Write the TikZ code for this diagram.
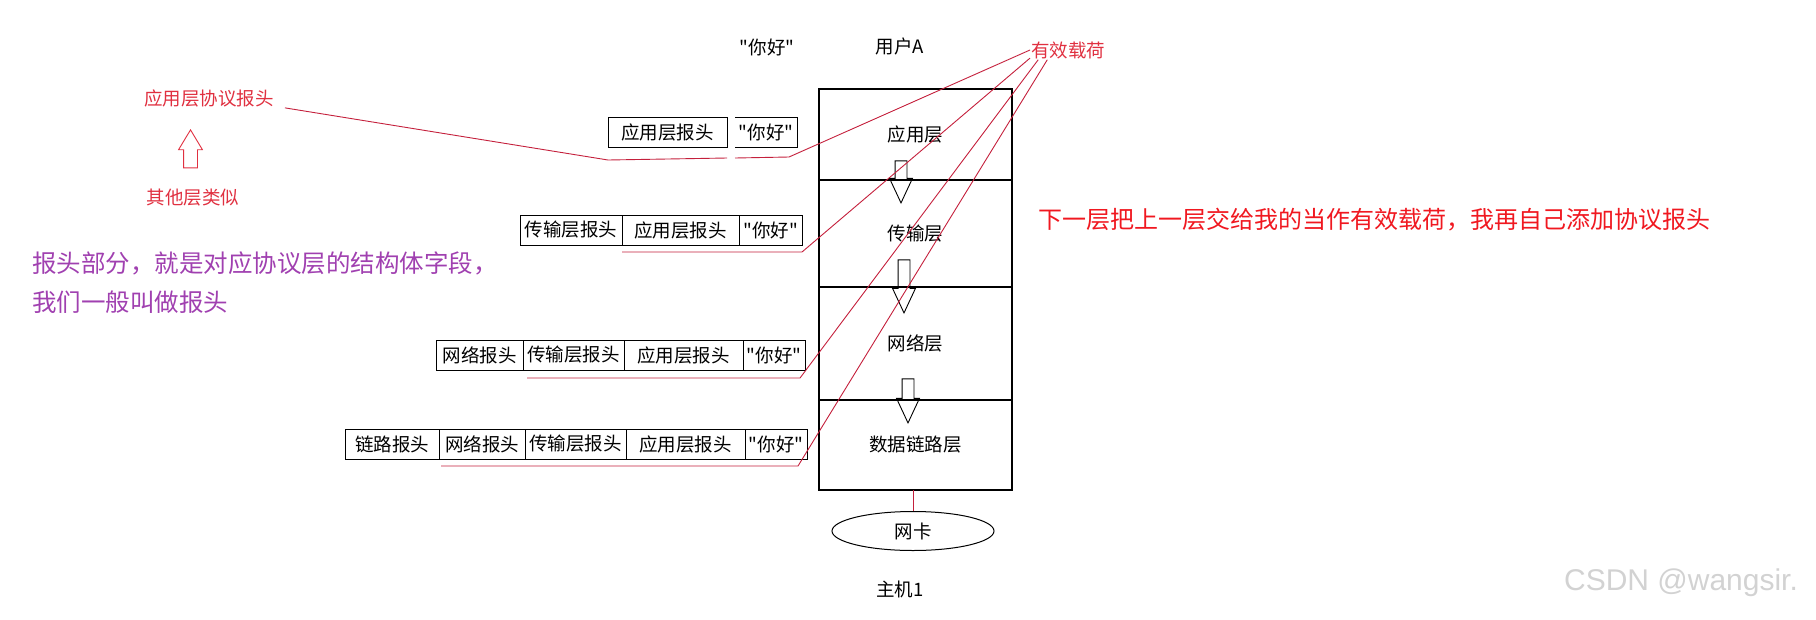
\documentclass[tikz,border=0pt]{standalone}
\usepackage{fontspec}
\newfontfamily\cjk{Noto Sans CJK SC}
\newfontfamily\wmfont{Liberation Sans}
\usetikzlibrary{positioning,shapes.geometric,shapes.arrows}

\definecolor{linered}{RGB}{196,32,60}
\definecolor{notered}{RGB}{224,48,64}
\definecolor{bigred}{RGB}{240,24,32}
\definecolor{notepurple}{RGB}{160,64,176}

\begin{document}
\begin{tikzpicture}[
    x=1pt, y=-1pt,
    txt/.style={font=\cjk\fontsize{18.5}{22}\selectfont, inner sep=1pt},
    hdr/.style={draw, line width=1pt, minimum height=30pt, inner sep=0pt, outer sep=0pt, font=\cjk\fontsize{18.5}{22}\selectfont},
    layer/.style={draw, line width=1.1pt, minimum width=193pt, inner sep=0pt, outer sep=0pt, font=\cjk\fontsize{18.5}{22}\selectfont},
    downarrow/.style={single arrow, draw, line width=0.9pt, shape border rotate=270, inner sep=5.5pt, single arrow head extend=5.5pt, single arrow tip angle=50, anchor=tip},
    redline/.style={draw=linered, line width=0.9pt}
]
\useasboundingbox (0,0) rectangle (1816,619);

% Top labels
\node[txt] (hello) at (767,47) {"你好"};
\node[txt] (user) at (900,46) {用户A};
\node[txt, text=notered, anchor=west] (payload) at (1030,50) {有效载荷};

% Protocol stack
\node[layer, minimum height=91pt, anchor=north] (app) at (915.5,89) {应用层};
\node[layer, minimum height=107pt, below=0pt of app] (trans) {传输层};
\node[layer, minimum height=113pt, below=0pt of trans] (net) {网络层};
\node[layer, minimum height=90pt, below=0pt of net] (link) {数据链路层};

% Hollow arrows between layers
\node[downarrow, minimum height=42pt] (arr1) at ([xshift=-14.5pt,yshift=-24pt]app.south) {};
\node[downarrow, minimum height=53pt] (arr2) at ([xshift=-11.5pt,yshift=-27pt]trans.south) {};
\node[downarrow, minimum height=44pt] (arr3) at ([xshift=-7.5pt,yshift=-24pt]net.south) {};

% NIC
\node[ellipse, draw, line width=1pt, minimum width=162pt, minimum height=39pt, font=\cjk\fontsize{18.5}{22}\selectfont] (nic) at (913,531) {网卡};
\draw[redline] (nic.north) -- (nic.north |- link.south);
\node[txt] (host) at (900,589) {主机1};

% Row 1
\node[hdr, minimum width=119pt, anchor=south west] (h1a) at (608,147) {应用层报头};
\node[hdr, draw=none, minimum width=62pt, right=8pt of h1a] (h1p) {"你好"};
\draw[line width=1pt] (h1p.north west) -- (h1p.north east) -- (h1p.south east) -- (h1p.south west);

% Row 2
\node[hdr, minimum width=102pt, anchor=south west] (h2t) at (520,245) {传输层报头};
\node[hdr, minimum width=117pt, right=0pt of h2t] (h2a) {应用层报头};
\node[hdr, minimum width=63pt, right=0pt of h2a] (h2p) {"你好"};

% Row 3
\node[hdr, minimum width=87pt, anchor=south west] (h3n) at (436,370) {网络报头};
\node[hdr, minimum width=101pt, right=0pt of h3n] (h3t) {传输层报头};
\node[hdr, minimum width=119pt, right=0pt of h3t] (h3a) {应用层报头};
\node[hdr, minimum width=62pt, right=0pt of h3a] (h3p) {"你好"};

% Row 4
\node[hdr, minimum width=94pt, anchor=south west] (h4l) at (345,459) {链路报头};
\node[hdr, minimum width=86pt, right=0pt of h4l] (h4n) {网络报头};
\node[hdr, minimum width=101pt, right=0pt of h4n] (h4t) {传输层报头};
\node[hdr, minimum width=119pt, right=0pt of h4t] (h4a) {应用层报头};
\node[hdr, minimum width=62pt, right=0pt of h4a] (h4p) {"你好"};

% Left notes
\node[txt, text=notered] (proto) at (209,98) {应用层协议报头};
\node[single arrow, draw=notered, line width=0.9pt, shape border rotate=90, inner sep=6.5pt, single arrow head extend=5pt, single arrow tip angle=62, minimum height=38pt, anchor=tip] (uparr) at (190.5,129) {};
\node[txt, text=notered] (similar) at (193,198) {其他层类似};
\node[font=\cjk\fontsize{24.5}{39}\selectfont, text=notepurple, align=left, anchor=west, inner sep=0pt] (note) at (32,282.5) {报头部分，就是对应协议层的结构体字段，\\我们一般叫做报头};

% Right note
\node[font=\cjk\fontsize{24}{28}\selectfont, text=bigred, anchor=west, inner sep=0pt] (rule) at (1038,220) {下一层把上一层交给我的当作有效载荷，我再自己添加协议报头};

% Red marker lines
\draw[redline] ([xshift=10pt]proto.south east) -- ([yshift=-13pt]h1a.south west) -- ([yshift=-11pt]h1a.south east);
\draw[redline] (payload.west) -- ([xshift=-8pt,yshift=-10pt]h1p.south east) -- ([yshift=-11pt]h1p.south west);
\draw[redline] (payload.192) -- ([yshift=-7pt]h2p.south east) -- ([yshift=-7pt]h2a.south west);
\draw[redline] (payload.198) -- ([xshift=-5pt,yshift=-8pt]h3p.south east) -- ([xshift=4pt,yshift=-8pt]h3t.south west);
\draw[redline] (payload.205) -- ([xshift=-9pt,yshift=-7pt]h4p.south east) -- ([xshift=2pt,yshift=-7pt]h4n.south west);

% Watermark
\node[font=\wmfont\fontsize{30}{36}\selectfont, text=gray!35] (mark) at (1681,583) {CSDN @wangsir.};
\end{tikzpicture}
\end{document}
